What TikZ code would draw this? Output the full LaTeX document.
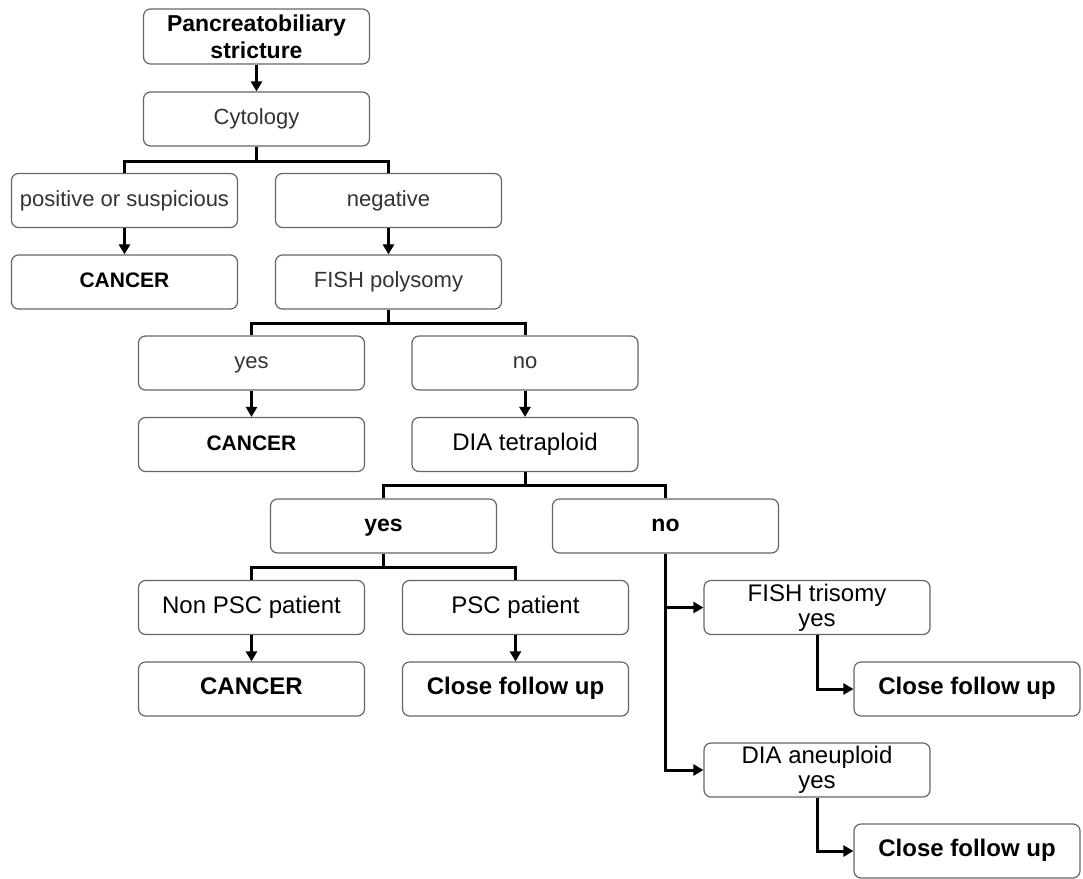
\documentclass[tikz,border=0pt]{standalone}
\usepackage{fontspec}
\setmainfont{Liberation Sans}
\usetikzlibrary{arrows.meta,calc}
\definecolor{boxline}{HTML}{666666}
\definecolor{softtext}{HTML}{333333}
\begin{document}
\begin{tikzpicture}[x=1pt,y=-1pt,
 box/.style={draw=boxline,line width=1.2pt,rounded corners=7pt,minimum width=226pt,minimum height=54pt,inner sep=0pt,align=center,fill=white},
 oneline/.style={text height=16pt,text depth=5pt},
 soft/.style={box,oneline,text=softtext,font=\fontsize{22}{26}\selectfont},
 plain/.style={box,font=\fontsize{24}{25}\selectfont},
 boldbox/.style={box,oneline,font=\fontsize{24}{27}\selectfont\bfseries},
 line/.style={line width=3pt},
 arr/.style={line width=3pt,-{Triangle[length=10pt,width=11pt]}}]
\useasboundingbox[fill=white] (0,0) rectangle (1083,878);

\node[box,font=\fontsize{23}{27}\selectfont\bfseries,minimum height=55pt] (top) at (256.5,36.5) {Pancreatobiliary\\stricture};
\node[soft] (cyto) at (256.5,119) {Cytology};
\node[soft] (pos) at (124.5,200.5) {positive or suspicious};
\node[soft] (neg) at (388.5,200.5) {negative};
\node[boldbox,font=\fontsize{21}{25}\selectfont\bfseries] (can1) at (124.5,282) {CANCER};
\node[soft] (fishp) at (388.5,282) {FISH polysomy};
\node[soft] (yes1) at (251.5,363) {yes};
\node[soft] (no1) at (525,363) {no};
\node[boldbox,font=\fontsize{21}{25}\selectfont\bfseries] (can2) at (251.5,444.5) {CANCER};
\node[plain,oneline] (dia) at (525,444.5) {DIA tetraploid};
\node[boldbox,font=\fontsize{23}{25}\selectfont\bfseries] (yes2) at (383.5,526) {yes};
\node[boldbox,font=\fontsize{23}{25}\selectfont\bfseries] (no2) at (665.5,526) {no};
\node[plain,oneline] (nonpsc) at (251.5,607.5) {Non PSC patient};
\node[plain,oneline] (psc) at (515.5,607.5) {PSC patient};
\node[boldbox] (can3) at (251.5,689) {CANCER};
\node[boldbox] (cfu1) at (515.5,689) {Close follow up};
\node[plain] (fisht) at (817,607.5) {FISH trisomy\\yes};
\node[boldbox] (cfu2) at (967,689) {Close follow up};
\node[plain] (diaa) at (817,770) {DIA aneuploid\\yes};
\node[boldbox] (cfu3) at (967,851) {Close follow up};

\draw[arr] (top) -- (cyto);
\draw[line] (cyto.south) -- ++(0,15) coordinate (b1);
\draw[line] (pos.north) |- (b1) -| (neg.north);
\draw[arr] (pos) -- (can1);
\draw[arr] (neg) -- (fishp);
\draw[line] (fishp.south) -- ++(0,14) coordinate (b2);
\draw[line] (yes1.north) |- (b2) -| (no1.north);
\draw[arr] (yes1) -- (can2);
\draw[arr] (no1) -- (dia);
\draw[line] (dia.south) -- ++(0,13) coordinate (b3);
\draw[line] (yes2.north) |- (b3) -| (no2.north);
\draw[line] (yes2.south) -- ++(0,14) coordinate (b4);
\draw[line] (nonpsc.north) |- (b4) -| (psc.north);
\draw[arr] (nonpsc) -- (can3);
\draw[arr] (psc) -- (cfu1);
\draw[arr] (no2.south) |- (fisht.west);
\draw[arr] (no2.south) |- (diaa.west);
\draw[arr] (fisht.south) |- (cfu2.west);
\draw[arr] (diaa.south) |- (cfu3.west);
\end{tikzpicture}
\end{document}
